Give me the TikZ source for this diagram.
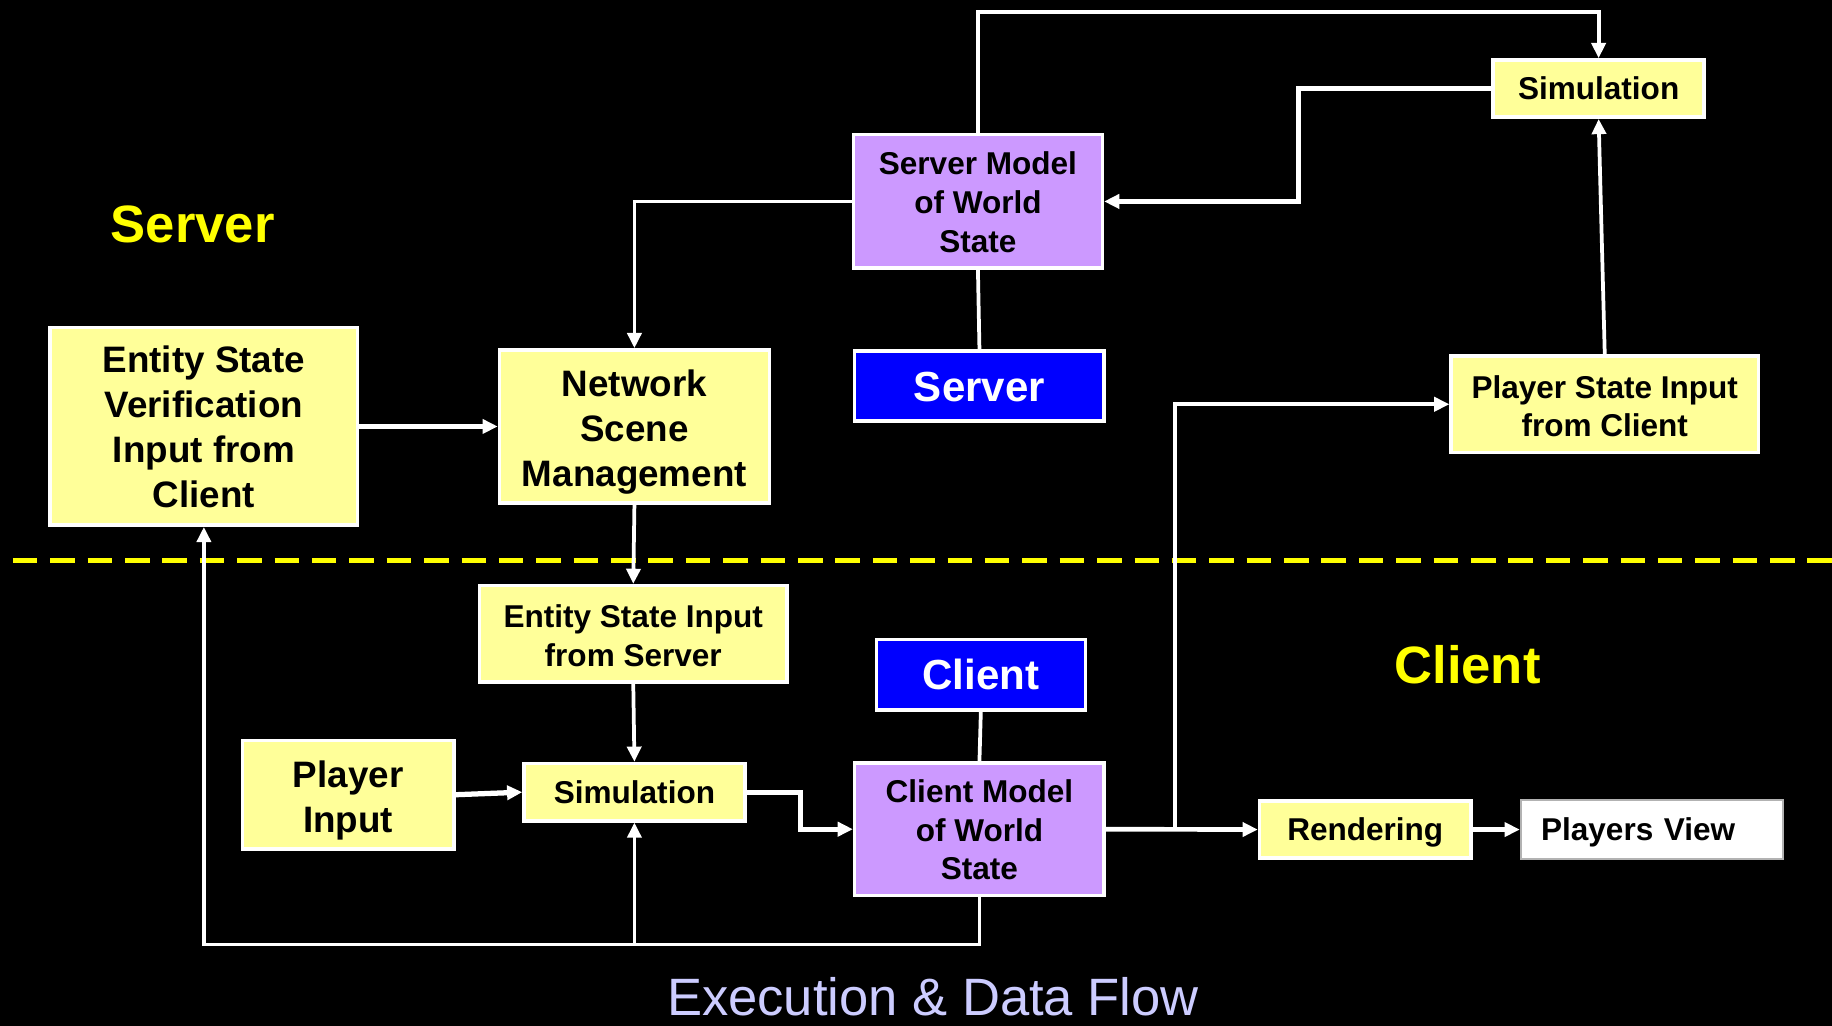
\documentclass[tikz,border=0pt]{standalone}
\usepackage{fontspec}
\setmainfont{Liberation Sans}
\usetikzlibrary{arrows.meta}
\definecolor{boxyellow}{HTML}{FFFF99}
\definecolor{boxpurple}{HTML}{CC99FF}
\definecolor{boxblue}{HTML}{0000FF}
\definecolor{lblyellow}{HTML}{FFFF00}
\definecolor{titlecol}{HTML}{CCCCFF}
\begin{document}
\begin{tikzpicture}[x=1pt,y=-1pt,
  box/.style={draw=white, line width=3pt, inner sep=0pt, align=center, text=black,
    font=\bfseries\fontsize{27}{33}\selectfont},
  ybox/.style={box, fill=boxyellow},
  pbox/.style={box, fill=boxpurple},
  bbox/.style={box, fill=boxblue, text=white, font=\bfseries\fontsize{36}{40}\selectfont,
    text height=25.8pt, text depth=0pt},
  oneline/.style={text height=19.3pt, text depth=0pt},
  bigtext/.style={font=\bfseries\fontsize{31.5}{38.5}\selectfont},
  conn/.style={draw=white, line width=3.2pt},
  arr/.style={conn, -{Triangle[length=13pt,width=12pt]}},
  arrheavy/.style={arr, line width=4.5pt},
  sidelabel/.style={text=lblyellow, anchor=base, font=\bfseries\fontsize{45}{50}\selectfont},
]
\useasboundingbox (0,0) rectangle (1568,878);
\fill[black] (0,0) rectangle (1568,878);

% divider
\coordinate (dl) at (11,480);
\coordinate (dr) at (1568,480);
\draw[lblyellow, line width=4.3pt, dash pattern=on 21pt off 11pt] (dl) -- (dr);

% nodes
\node[ybox, bigtext, minimum width=263, minimum height=169] (esv) at (174.5,365) {Entity State\\Verification\\Input from\\Client};
\node[ybox, bigtext, minimum width=231, minimum height=131] (nsm) at (543,365) {\rule{0pt}{33pt}Network\\Scene\\Management};
\node[ybox, minimum width=263, minimum height=82.5] (esi) at (542,542.5) {\rule{0pt}{23pt}Entity State Input\\from Server};
\node[ybox, bigtext, minimum width=181, minimum height=92.6] (pin) at (298,680.2) {\rule{0pt}{32pt}Player\\Input};
\node[ybox, oneline, minimum width=189, minimum height=49] (simC) at (543,678) {Simulation};
\node[pbox, minimum width=213, minimum height=114.3] (sm) at (837,172.4) {\rule{0pt}{21pt}Server Model\\of World\\State};
\node[bbox, minimum width=213.6, minimum height=60] (srv) at (838.3,330.5) {Server};
\node[bbox, minimum width=179, minimum height=60] (cli) at (839.5,577.5) {Client};
\node[pbox, minimum width=213.6, minimum height=113.7] (cm) at (838.3,709.7) {\rule{0pt}{21pt}Client Model\\of World\\State};
\node[ybox, oneline, minimum width=181, minimum height=49] (rnd) at (1168.5,710) {Rendering};
\node[box, oneline, fill=white, draw=gray!60, line width=1.5pt, minimum height=50, text width=189.5pt, inner xsep=17.5pt, align=left] (pv) at (1413.75,710) {Players View};
\node[ybox, oneline, minimum width=180.5, minimum height=49] (simS) at (1368.25,75.8) {Simulation};
\node[ybox, minimum width=263, minimum height=82.2] (psi) at (1373.5,346) {\rule{0pt}{23pt}Player State Input\\from Client};

% labels
\node[sidelabel] (lserver) at (165,207.8) {Server};
\node[sidelabel] (lclient) at (1256,584.6) {Client};
\node[text=titlecol, anchor=base, inner sep=0pt, text depth=0pt, font=\fontsize{45}{50}\selectfont] (title) at (798.5,869) {Execution \& Data Flow};

% helper coordinates
\coordinate (ytop) at (0,10);
\coordinate (x3) at (1111.5,0);
\coordinate (x10) at (685,0);
\coordinate (ybot) at (0,808.4);
\coordinate (x13) at (1005.5,0);

% connectors
\draw[arr] (sm.west) -| (nsm.north);
\draw[arr] (sm.north) -- (sm.north |- ytop) -| (simS.north);
\draw[arr, line width=4pt] (simS.west) -- (simS.west -| x3) |- (sm.east);
\draw[arr] (psi.north) -- (simS.south);
\draw[conn] (sm.south) -- (srv.north);
\draw[arrheavy] (esv.east) -- (nsm.west);
\draw[arr] (nsm.south) -- (esi.north);
\draw[arr] (esi.south) -- (simC.north);
\draw[arrheavy] (pin.east) -- (simC.west);
\draw[arrheavy] (simC.east) -- (simC.east -| x10) |- (cm.west);
\draw[conn] (cli.south) -- (cm.north);
\draw[arr] (cm.south) -- (cm.south |- ybot) -| (esv.south);
\draw[arr] (simC.south |- ybot) -- (simC.south);
\draw[arr, line width=4pt] (cm.east) -- (rnd.west);
\draw[arr] (cm.east -| x13) |- (psi.west);
\draw[arrheavy] (rnd.east) -- (pv.west);
\end{tikzpicture}
\end{document}
